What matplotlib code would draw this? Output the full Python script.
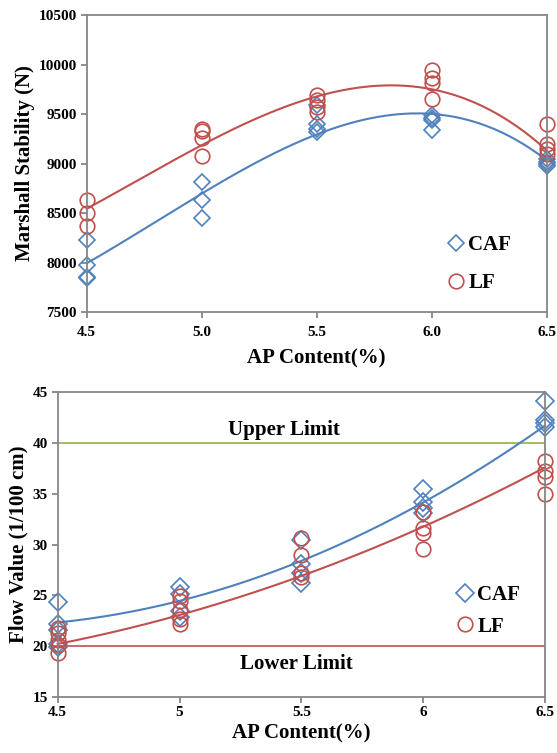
import numpy as np
import matplotlib
matplotlib.use("Agg")
import matplotlib.pyplot as plt

plt.rcParams["font.family"] = ["Liberation Serif", "DejaVu Serif"]
plt.rcParams["font.weight"] = "bold"
plt.rcParams["axes.labelweight"] = "bold"

# Marshall stability (N)
ap_content = [4.5, 5.0, 5.5, 6.0, 6.5]
caf_stability = [[8230, 7970, 7850, 7840], [8810, 8630, 8450],
                 [9590, 9400, 9350, 9320], [9490, 9460, 9440, 9340],
                 [9050, 9020, 8990, 8970]]
lf_stability = [[8630, 8500, 8370], [9350, 9330, 9260, 9080],
                [9690, 9640, 9570, 9520], [9940, 9860, 9810, 9650],
                [9400, 9200, 9150, 9100]]
# trendline values read at each AP content
caf_stability_trend = [7995, 8685, 9310, 9490, 9035]
lf_stability_trend = [8545, 9180, 9685, 9745, 9135]
top_xticklabels = ["4.5", "5.0", "5.5", "6.0", "6.5"]

# Flow value (1/100 cm)
caf_flow = [[24.3, 22.2, 21.6, 20.2, 19.9], [25.8, 25.1, 23.4, 22.9],
            [30.4, 28.1, 27.2, 26.2], [35.5, 34.2, 33.6, 33.1],
            [44.1, 42.3, 42.0, 41.6]]
lf_flow = [[21.8, 21.3, 20.6, 20.1, 19.3], [24.9, 24.4, 23.5, 22.7, 22.2],
           [30.6, 29.0, 27.2, 26.8], [33.2, 31.6, 31.1, 29.6],
           [38.2, 37.2, 36.7, 35.0]]
caf_flow_trend = [22.3, 24.5, 28.3, 34.2, 41.7]
lf_flow_trend = [20.2, 23.05, 26.9, 31.75, 37.6]
bottom_xticklabels = ["4.5", "5", "5.5", "6", "6.5"]
upper_limit = 40
lower_limit = 20

BLUE = "#4F81BD"
RED = "#C0504D"
GREEN = "#8DB24E"
GRAY = "#868686"

W, H = 557, 753
fig = plt.figure(figsize=(W / 100, H / 100), dpi=100)


def flatten(groups):
    xs, ys = [], []
    for x, vals in zip(ap_content, groups):
        xs += [x] * len(vals)
        ys += vals
    return np.array(xs), np.array(ys)


def style_axes(ax, xpad):
    for s in ax.spines.values():
        s.set_color(GRAY)
        s.set_linewidth(1.3)
    ax.tick_params(direction="out", length=4, width=1.3, color=GRAY,
                   labelsize=11, pad=3)
    ax.tick_params(axis="x", pad=xpad)


def draw_series(ax, groups, trend, marker, color, ms, label):
    xs, ys = flatten(groups)
    coef = np.polyfit(ap_content, trend, 3)
    xx = np.linspace(4.5, 6.5, 200)
    ax.plot(xx, np.polyval(coef, xx), color=color, lw=1.5, clip_on=False)
    h, = ax.plot(xs, ys, linestyle="none", marker=marker, ms=ms,
                 mfc="none", mec=color, mew=1.2, label=label, clip_on=False)
    return h


def px_axes(left, top, right, bottom):
    return fig.add_axes([left / W, 1 - bottom / H, (right - left) / W,
                         (bottom - top) / H])


# top chart
ax1 = px_axes(86.7, 15, 546.7, 312)
h1 = draw_series(ax1, caf_stability, caf_stability_trend, "D", BLUE, 8, "CAF")
h2 = draw_series(ax1, lf_stability, lf_stability_trend, "o", RED, 10.5, "LF")
ax1.set_xlim(4.5, 6.5)
ax1.set_ylim(7500, 10500)
ax1.set_xticks(ap_content)
ax1.set_xticklabels(top_xticklabels)
ax1.set_yticks(np.arange(7500, 10501, 500))
style_axes(ax1, 6)
ax1.set_xlabel("AP Content(%)", fontsize=15, labelpad=7)
ax1.set_ylabel("Marshall Stability (N)", fontsize=15, labelpad=3)
ax1.legend(handles=[h1, h2], loc="center left", frameon=False, fontsize=15,
           handlelength=1.0, handletextpad=0.1, borderpad=0,
           borderaxespad=0, labelspacing=0.85, numpoints=1,
           bbox_to_anchor=(445.5 / W, 1 - 264 / H),
           bbox_transform=fig.transFigure)

# bottom chart
ax2 = px_axes(57.7, 392.3, 545, 696.7)
ax2.axhline(upper_limit, color=GREEN, lw=1.2)
ax2.axhline(lower_limit, color=RED, lw=1.2)
h3 = draw_series(ax2, caf_flow, caf_flow_trend, "D", BLUE, 9, "CAF")
h4 = draw_series(ax2, lf_flow, lf_flow_trend, "o", RED, 10.5, "LF")
ax2.set_xlim(4.5, 6.5)
ax2.set_ylim(15, 45)
ax2.set_xticks(ap_content)
ax2.set_xticklabels(bottom_xticklabels)
ax2.set_yticks(np.arange(15, 46, 5))
style_axes(ax2, 3)
ax2.text(5.43, 41.3, "Upper Limit", fontsize=15, ha="center", va="center")
ax2.text(5.48, 18.2, "Lower Limit", fontsize=15, ha="center", va="center")
ax2.set_xlabel("AP Content(%)", fontsize=15, labelpad=3)
ax2.set_ylabel("Flow Value (1/100 cm)", fontsize=15, labelpad=3)
ax2.legend(handles=[h3, h4], loc="center left", frameon=False, fontsize=15,
           handlelength=1.0, handletextpad=0.1, borderpad=0,
           borderaxespad=0, labelspacing=0.55, numpoints=1,
           bbox_to_anchor=(454.5 / W, 1 - 611 / H),
           bbox_transform=fig.transFigure)

fig.savefig("out.png", dpi=100)
